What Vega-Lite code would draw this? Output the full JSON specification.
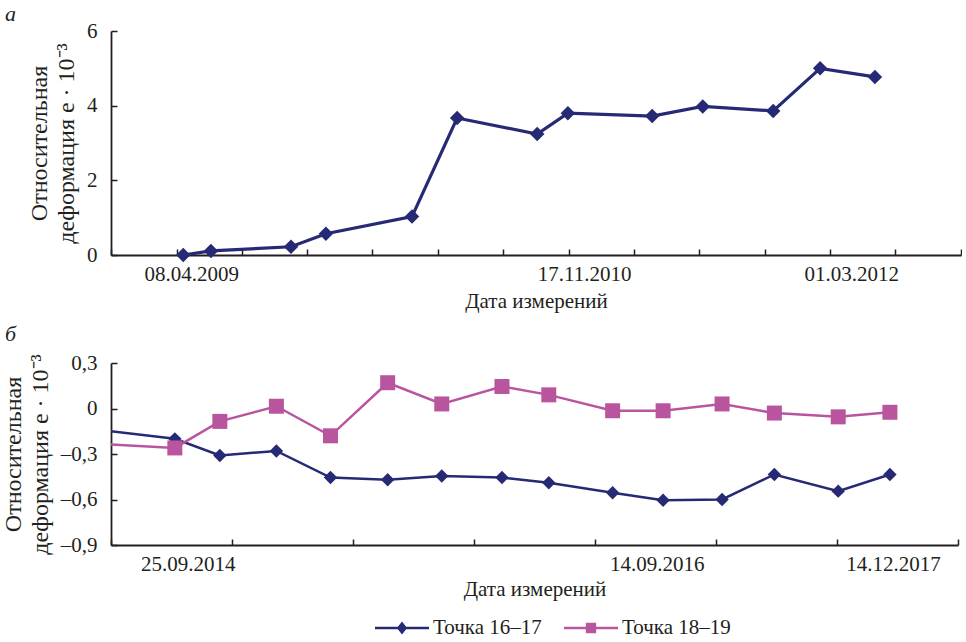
{
  "$schema": "https://vega.github.io/schema/vega-lite/v6.json",
  "background": "white",
  "padding": {"left": 1, "top": 3, "right": 0, "bottom": 0},
  "spacing": 12,
  "config": {
    "font": "Liberation Serif",
    "view": {"stroke": null},
    "axis": {"labelFont": "Liberation Serif", "labelFontSize": 21, "labelColor": "#231f20", "titleFont": "Liberation Serif", "titleFontSize": 21, "titleFontWeight": "normal", "titleColor": "#231f20", "domainColor": "#231f20", "domainWidth": 1.8, "tickColor": "#231f20", "tickWidth": 1.5, "tickSize": -6, "grid": false, "labelFlush": false, "labelOverlap": false},
    "axisY": {"titleFontSize": 24, "titleLineHeight": 27},
    "legend": {"labelFont": "Liberation Serif", "labelFontSize": 21, "labelColor": "#231f20"},
    "title": {"font": "Liberation Serif", "fontSize": 22, "fontStyle": "italic", "fontWeight": "normal", "color": "#231f20", "anchor": "start", "frame": "group"}
  },
  "resolve": {"scale": {"x": "independent", "y": "independent"}},
  "vconcat": [
    {
      "width": 850,
      "height": 224,
      "title": {"text": "а", "dx": -106, "offset": -6},
      "data": {"values": [
        {"date": "2009-04-08", "value": 0.0},
        {"date": "2009-05-24", "value": 0.11},
        {"date": "2009-10-04", "value": 0.22},
        {"date": "2009-12-01", "value": 0.57},
        {"date": "2010-04-23", "value": 1.03},
        {"date": "2010-07-07", "value": 3.67},
        {"date": "2010-11-17", "value": 3.24},
        {"date": "2011-01-07", "value": 3.8},
        {"date": "2011-05-27", "value": 3.72},
        {"date": "2011-08-19", "value": 3.98},
        {"date": "2011-12-14", "value": 3.86},
        {"date": "2012-03-01", "value": 5.0},
        {"date": "2012-05-31", "value": 4.77}
      ]},
      "layer": [
        {
          "mark": {"type": "line", "color": "#262a74", "strokeWidth": 3.2},
          "encoding": {
            "x": {"field": "date", "type": "temporal",
              "scale": {"domain": [{"year": 2008, "month": 12, "date": 9, "utc": true}, {"year": 2012, "month": 10, "date": 21, "utc": true}], "nice": false},
              "axis": {"orient": "bottom", "labels": false, "title": null, "values": [
                {"year": 2008, "month": 12, "date": 9, "utc": true},
                {"year": 2009, "month": 3, "date": 28, "utc": true},
                {"year": 2009, "month": 7, "date": 14, "utc": true},
                {"year": 2009, "month": 10, "date": 31, "utc": true},
                {"year": 2010, "month": 2, "date": 16, "utc": true},
                {"year": 2010, "month": 6, "date": 5, "utc": true},
                {"year": 2010, "month": 9, "date": 22, "utc": true},
                {"year": 2011, "month": 1, "date": 8, "utc": true},
                {"year": 2011, "month": 4, "date": 27, "utc": true},
                {"year": 2011, "month": 8, "date": 13, "utc": true},
                {"year": 2011, "month": 11, "date": 30, "utc": true},
                {"year": 2012, "month": 3, "date": 18, "utc": true},
                {"year": 2012, "month": 7, "date": 4, "utc": true},
                {"year": 2012, "month": 10, "date": 21, "utc": true}
              ]}},
            "y": {"field": "value", "type": "quantitative",
              "scale": {"domain": [0, 6], "nice": false},
              "axis": {"values": [0, 2, 4, 6], "format": "d", "labelPadding": 20, "titlePadding": 8, "title": ["Относительная", "деформация e · 10⁻³"]}}
          }
        },
        {
          "mark": {"type": "point", "shape": "diamond", "filled": true, "size": 210, "color": "#262a74", "opacity": 1},
          "encoding": {
            "x": {"field": "date", "type": "temporal",
              "axis": {"orient": "bottom", "ticks": false, "domain": false, "labelPadding": 8, "title": "Дата измерений", "titlePadding": 6,
                "labelExpr": "utcFormat(datum.value, '%d.%m.%Y')",
                "labelOffset": {"condition": [{"test": "utcFormat(datum.value, '%Y') == '2010'", "value": 47}, {"test": "utcFormat(datum.value, '%Y') == '2012'", "value": 31}], "value": 8},
                "values": [
                  {"year": 2009, "month": 4, "date": 8, "utc": true},
                  {"year": 2010, "month": 11, "date": 17, "utc": true},
                  {"year": 2012, "month": 3, "date": 1, "utc": true}
                ]}},
            "y": {"field": "value", "type": "quantitative"}
          }
        }
      ],
      "resolve": {"axis": {"x": "independent"}}
    },
    {
      "width": 847,
      "height": 182,
      "title": {"text": "б", "dx": -106, "offset": 6},
      "data": {"values": [
        {"date": "2014-03-15", "series": "Точка 16–17", "value": -0.108},
        {"date": "2014-09-25", "series": "Точка 16–17", "value": -0.2},
        {"date": "2014-12-08", "series": "Точка 16–17", "value": -0.31},
        {"date": "2015-03-11", "series": "Точка 16–17", "value": -0.28},
        {"date": "2015-06-08", "series": "Точка 16–17", "value": -0.455},
        {"date": "2015-09-10", "series": "Точка 16–17", "value": -0.47},
        {"date": "2015-12-08", "series": "Точка 16–17", "value": -0.445},
        {"date": "2016-03-16", "series": "Точка 16–17", "value": -0.455},
        {"date": "2016-06-01", "series": "Точка 16–17", "value": -0.49},
        {"date": "2016-09-14", "series": "Точка 16–17", "value": -0.555},
        {"date": "2016-12-06", "series": "Точка 16–17", "value": -0.605},
        {"date": "2017-03-13", "series": "Точка 16–17", "value": -0.6},
        {"date": "2017-06-07", "series": "Точка 16–17", "value": -0.435},
        {"date": "2017-09-20", "series": "Точка 16–17", "value": -0.545},
        {"date": "2017-12-14", "series": "Точка 16–17", "value": -0.435},
        {"date": "2014-03-15", "series": "Точка 18–19", "value": -0.219},
        {"date": "2014-09-25", "series": "Точка 18–19", "value": -0.26},
        {"date": "2014-12-08", "series": "Точка 18–19", "value": -0.085},
        {"date": "2015-03-11", "series": "Точка 18–19", "value": 0.015},
        {"date": "2015-06-08", "series": "Точка 18–19", "value": -0.18},
        {"date": "2015-09-10", "series": "Точка 18–19", "value": 0.17},
        {"date": "2015-12-08", "series": "Точка 18–19", "value": 0.03},
        {"date": "2016-03-16", "series": "Точка 18–19", "value": 0.145},
        {"date": "2016-06-01", "series": "Точка 18–19", "value": 0.09},
        {"date": "2016-09-14", "series": "Точка 18–19", "value": -0.015},
        {"date": "2016-12-06", "series": "Точка 18–19", "value": -0.015},
        {"date": "2017-03-13", "series": "Точка 18–19", "value": 0.03},
        {"date": "2017-06-07", "series": "Точка 18–19", "value": -0.03},
        {"date": "2017-09-20", "series": "Точка 18–19", "value": -0.055},
        {"date": "2017-12-14", "series": "Точка 18–19", "value": -0.025}
      ]},
      "layer": [
        {
          "mark": {"type": "line", "strokeWidth": 2.5, "clip": true},
          "encoding": {
            "x": {"field": "date", "type": "temporal",
              "scale": {"domain": [{"year": 2014, "month": 6, "date": 12, "utc": true}, {"year": 2018, "month": 4, "date": 5, "utc": true}], "nice": false},
              "axis": {"orient": "bottom", "labels": false, "title": null, "values": [
                {"year": 2014, "month": 6, "date": 12, "utc": true},
                {"year": 2014, "month": 12, "date": 28, "utc": true},
                {"year": 2015, "month": 7, "date": 15, "utc": true},
                {"year": 2016, "month": 1, "date": 30, "utc": true},
                {"year": 2016, "month": 8, "date": 16, "utc": true},
                {"year": 2017, "month": 3, "date": 3, "utc": true},
                {"year": 2017, "month": 9, "date": 18, "utc": true},
                {"year": 2018, "month": 4, "date": 5, "utc": true}
              ]}},
            "y": {"field": "value", "type": "quantitative",
              "scale": {"domain": [-0.9, 0.3], "nice": false},
              "axis": {"values": [-0.9, -0.6, -0.3, 0, 0.3], "labelPadding": 20, "titlePadding": 8, "title": ["Относительная", "деформация e · 10⁻³"],
                "labelExpr": "datum.value == 0 ? '0' : (datum.value < 0 ? '–' : '') + replace(format(abs(datum.value), '.1f'), '.', ',')"}},
            "color": {"field": "series", "type": "nominal", "legend": null,
              "scale": {"domain": ["Точка 16–17", "Точка 18–19"], "range": ["#262a74", "#b9559f"]}}
          }
        },
        {
          "mark": {"type": "point", "filled": true, "opacity": 1, "clip": true},
          "encoding": {
            "x": {"field": "date", "type": "temporal",
              "axis": {"orient": "bottom", "ticks": false, "domain": false, "labelPadding": 8, "title": "Дата измерений", "titlePadding": 4,
                "labelExpr": "utcFormat(datum.value, '%d.%m.%Y')",
                "labelOffset": {"condition": [{"test": "utcFormat(datum.value, '%Y') == '2014'", "value": 13}, {"test": "utcFormat(datum.value, '%Y') == '2016'", "value": 44}], "value": 3},
                "values": [
                  {"year": 2014, "month": 9, "date": 25, "utc": true},
                  {"year": 2016, "month": 9, "date": 14, "utc": true},
                  {"year": 2017, "month": 12, "date": 14, "utc": true}
                ]}},
            "y": {"field": "value", "type": "quantitative"},
            "color": {"field": "series", "type": "nominal", "legend": null,
              "scale": {"domain": ["Точка 16–17", "Точка 18–19"], "range": ["#262a74", "#b9559f"]}},
            "shape": {"field": "series", "type": "nominal", "legend": null,
              "scale": {"domain": ["Точка 16–17", "Точка 18–19"], "range": ["diamond", "square"]}},
            "size": {"field": "series", "type": "nominal", "legend": null,
              "scale": {"domain": ["Точка 16–17", "Точка 18–19"], "range": [180, 225]}}
          }
        },
        {
          "transform": [{"filter": "false"}],
          "mark": {"type": "point", "filled": true, "opacity": 1},
          "encoding": {
            "color": {"field": "series", "type": "nominal",
              "scale": {"domain": ["Точка 16–17", "Точка 18–19"], "range": ["#262a74", "#b9559f"]},
              "legend": {"title": null, "orient": "none", "legendX": 264, "legendY": 238, "direction": "horizontal", "symbolSize": 2916, "symbolStrokeWidth": 0, "symbolOpacity": 1, "labelFontSize": 21, "labelOffset": 4, "columnPadding": 22}},
            "shape": {"field": "series", "type": "nominal",
              "scale": {"domain": ["Точка 16–17", "Точка 18–19"], "range": [
                "M-1,-0.05L1,-0.05L1,0.05L-1,0.05Z M0,-0.24L0.19,0L0,0.24L-0.19,0Z",
                "M-1,-0.05L1,-0.05L1,0.05L-1,0.05Z M-0.19,-0.19L0.19,-0.19L0.19,0.19L-0.19,0.19Z"]},
              "legend": {"title": null, "orient": "none", "legendX": 264, "legendY": 238, "direction": "horizontal", "symbolSize": 2916, "symbolStrokeWidth": 0, "symbolOpacity": 1, "labelFontSize": 21, "labelOffset": 4, "columnPadding": 22}}
          }
        }
      ],
      "resolve": {"axis": {"x": "independent"}, "scale": {"color": "independent", "shape": "independent"}}
    }
  ]
}
